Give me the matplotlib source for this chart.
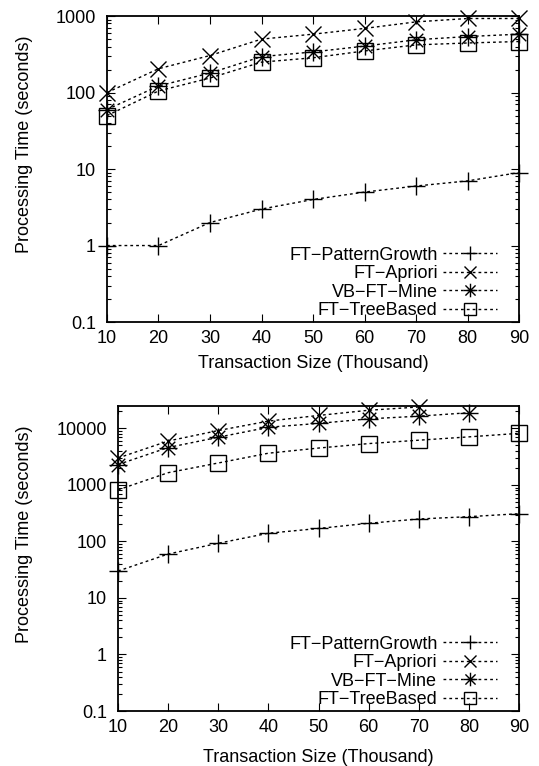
import numpy as np
import matplotlib
matplotlib.use("Agg")
from matplotlib import pyplot as plt
from matplotlib.path import Path
from matplotlib.ticker import LogLocator, FixedLocator, NullFormatter

plt.rcParams['font.family'] = ['Liberation Sans', 'DejaVu Sans']
plt.rcParams['font.size'] = 13

sizes = [10, 20, 30, 40, 50, 60, 70, 80, 90]
names = ["FT\u2212PatternGrowth", "FT\u2212Apriori", "VB\u2212FT\u2212Mine", "FT\u2212TreeBased"]

# first dataset
top_growth = [1, 1, 2, 3, 4, 5, 6, 7, 9]
top_apriori = [100, 205, 305, 500, 580, 690, 840, 930, 930]
top_vbmine = [60, 122, 180, 295, 340, 405, 490, 540, 580]
top_tree = [50, 105, 155, 250, 285, 350, 420, 445, 465]

# second dataset (missing runs are shorter lists)
bot_growth = [30, 60, 93, 140, 170, 210, 250, 275, 310]
bot_apriori = [3000, 6000, 9200, 13500, 17000, 21000, 24000]
bot_vbmine = [2300, 4600, 7000, 10500, 12300, 14800, 16500, 19000]
bot_tree = [820, 1650, 2450, 3650, 4500, 5400, 6200, 7100, 8200]

# asterisk = plus + cross
star = Path([(-1, 0), (1, 0), (0, -1), (0, 1), (-0.75, -0.75), (0.75, 0.75), (-0.75, 0.75), (0.75, -0.75)],
            [Path.MOVETO, Path.LINETO] * 4)
markers = ['+', 'x', star, 's']
msizes = [13, 11, 13, 11]


def draw(ax, series, ylim, yticks, ylabels, ylab_x):
    for vals, name, m, ms in zip(series, names, markers, msizes):
        ax.plot(sizes[:len(vals)], vals, color='black', lw=1, dashes=(2, 2.2),
                marker=m, markersize=ms, markeredgewidth=1, markerfacecolor='none',
                label=name, clip_on=False)
    ax.set_yscale('log')
    ax.set_xlim(10, 90)
    ax.set_ylim(*ylim)
    ax.xaxis.set_major_locator(FixedLocator(sizes))
    ax.yaxis.set_major_locator(FixedLocator(yticks))
    ax.set_yticklabels(ylabels)
    ax.yaxis.set_minor_locator(LogLocator(base=10, subs=np.arange(2, 10), numticks=20))
    ax.yaxis.set_minor_formatter(NullFormatter())
    ax.tick_params(which='both', direction='in', top=True, right=True, width=0.8)
    ax.tick_params(which='major', length=6)
    ax.tick_params(which='minor', length=3)
    ax.tick_params(axis='x', pad=6)
    ax.tick_params(axis='y', pad=8)
    for s in ax.spines.values():
        s.set_linewidth(1.3)
    ax.set_xlabel("Transaction Size (Thousand)")
    ax.set_ylabel("Processing Time (seconds)")
    ax.yaxis.set_label_coords(ylab_x, 0.58)
    ax.legend(loc='lower right', frameon=False, markerfirst=False, handlelength=3.0,
              handletextpad=0.3, labelspacing=0.08, borderaxespad=0, borderpad=0,
              markerscale=0.75, fontsize=13)


fig = plt.figure(figsize=(5.39, 7.66), dpi=100)
ax1 = fig.add_axes([0.1985, 0.5796, 0.7645, 0.3994])
ax2 = fig.add_axes([0.219, 0.0718, 0.744, 0.3982])

draw(ax1, [top_growth, top_apriori, top_vbmine, top_tree], (0.1, 1000),
     [0.1, 1, 10, 100, 1000], ["0.1", "1", "10", "100", "1000"], -0.18)
draw(ax2, [bot_growth, bot_apriori, bot_vbmine, bot_tree], (0.1, 25000),
     [0.1, 1, 10, 100, 1000, 10000], ["0.1", "1", "10", "100", "1000", "10000"], -0.212)

ax1.xaxis.set_label_coords(0.5, -0.107)
ax2.xaxis.set_label_coords(0.5, -0.125)
ax1.get_legend().set_bbox_to_anchor((0.947, 0.01), transform=ax1.transAxes)
ax2.get_legend().set_bbox_to_anchor((0.945, 0.01), transform=ax2.transAxes)

fig.savefig("out.png", dpi=100)
